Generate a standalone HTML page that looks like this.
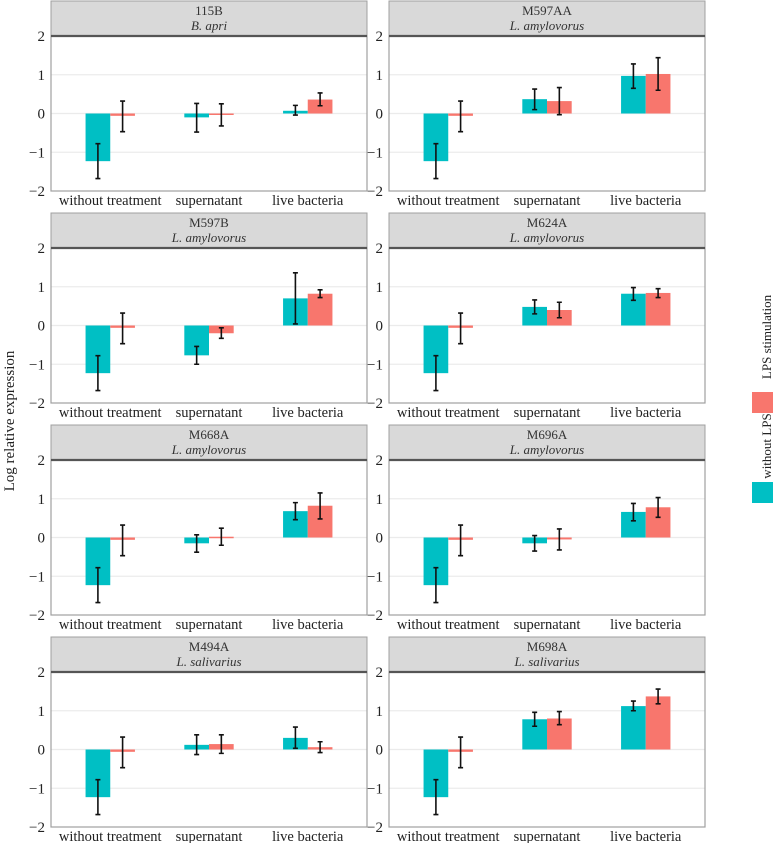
<!DOCTYPE html>
<html><head><meta charset="utf-8"><style>
html,body{margin:0;padding:0;background:#fff;}
svg{display:block;font-family:"Liberation Serif",serif;}
</style></head><body>
<svg id="chart" width="774" height="843" viewBox="0 0 774 843" xmlns="http://www.w3.org/2000/svg">
<text x="14" y="421" transform="rotate(-90 14 421)" text-anchor="middle" font-size="15" fill="#222">Log relative expression</text>
<g>
<rect x="752" y="482" width="21" height="21" fill="#00BFC4"></rect>
<text x="771" y="446" transform="rotate(-90 771 446)" text-anchor="middle" font-size="13" fill="#222">without LPS</text>
<rect x="752" y="392" width="21" height="21" fill="#F8766D"></rect>
<text x="771" y="337" transform="rotate(-90 771 337)" text-anchor="middle" font-size="13" fill="#222">LPS stimulation</text>
</g>
</svg>
<script>
const categories = ["without treatment","supernatant","live bacteria"];
const panelCodes = ["115B","M597AA","M597B","M624A","M668A","M696A","M494A","M698A"];
const panelSpecies = ["B. apri","L. amylovorus","L. amylovorus","L. amylovorus","L. amylovorus","L. amylovorus","L. salivarius","L. salivarius"];
const yTicks = [-2,-1,0,1,2];
const tickLabels = ["\u22122","\u22121","0","1","2"];
// values per panel: [without treatment, supernatant, live bacteria]
const withoutLPS = [
 [-1.23,-0.10,0.07],[-1.23,0.37,0.97],[-1.23,-0.77,0.70],[-1.23,0.48,0.82],
 [-1.23,-0.15,0.68],[-1.23,-0.15,0.66],[-1.23,0.12,0.30],[-1.23,0.78,1.12]];
const withoutLPSLo = [
 [-1.68,-0.48,-0.04],[-1.68,0.10,0.65],[-1.68,-1.00,0.04],[-1.68,0.30,0.65],
 [-1.68,-0.38,0.46],[-1.68,-0.35,0.43],[-1.68,-0.13,0.03],[-1.68,0.60,1.00]];
const withoutLPSHi = [
 [-0.78,0.26,0.21],[-0.78,0.63,1.28],[-0.78,-0.54,1.36],[-0.78,0.66,0.98],
 [-0.78,0.07,0.90],[-0.78,0.05,0.88],[-0.78,0.38,0.58],[-0.78,0.96,1.25]];
const lpsStim = [
 [-0.06,-0.03,0.36],[-0.06,0.32,1.02],[-0.06,-0.20,0.82],[-0.06,0.40,0.84],
 [-0.06,0.02,0.82],[-0.06,-0.05,0.78],[-0.06,0.14,0.06],[-0.06,0.80,1.37]];
const lpsStimLo = [
 [-0.47,-0.32,0.20],[-0.47,-0.03,0.60],[-0.47,-0.33,0.72],[-0.47,0.20,0.72],
 [-0.47,-0.20,0.48],[-0.47,-0.32,0.52],[-0.47,-0.10,-0.08],[-0.47,0.64,1.18]];
const lpsStimHi = [
 [0.32,0.25,0.53],[0.32,0.67,1.44],[0.32,-0.06,0.92],[0.32,0.60,0.95],
 [0.32,0.24,1.15],[0.32,0.22,1.03],[0.32,0.38,0.20],[0.32,0.98,1.56]];

const NS="http://www.w3.org/2000/svg";
const svg=document.getElementById('chart');
function mk(tag,attrs,parent){const e=document.createElementNS(NS,tag);for(const k in attrs)e.setAttribute(k,attrs[k]);(parent||svg).appendChild(e);return e;}
const colX=[51,389], pw=316, stripH=35, plotH=155, rowY0=1, rowStep=212;
for(let p=0;p<panelCodes.length;p++){
  const col=p%2,row=Math.floor(p/2);
  const x0=colX[col], sTop=rowY0+row*rowStep, pTop=sTop+stripH, pBot=pTop+plotH;
  const g=mk('g',{});
  
  
  const yS=v=>pTop+(2-v)/4*plotH;
  const unit=pw/3.2;
  const xS=i=>x0+(i+0.6)*unit;
  const bw=unit*0.25;
  yTicks.forEach((t,i)=>{
    if(t>-2&&t<2){const gl=mk('line',{x1:x0,x2:x0+pw,y1:yS(t),y2:yS(t),stroke:'#ebebeb','stroke-width':1.2},g);
      }
    const tl=mk('text',{x:x0-6,y:yS(t)+5,'text-anchor':'end','font-size':15,fill:'#222'},g);
    tl.textContent=tickLabels[i];
    
  });
  const st=mk('rect',{x:x0,y:sTop,width:pw,height:stripH,fill:'#d9d9d9',stroke:'#a0a0a0','stroke-width':1},g);
  
  const t1=mk('text',{x:x0+pw/2,y:sTop+14,'text-anchor':'middle','font-size':13,fill:'#333'},g);
  t1.textContent=panelCodes[p];
  const t2=mk('text',{x:x0+pw/2,y:sTop+29,'text-anchor':'middle','font-size':13,'font-style':'italic',fill:'#333'},g);
  t2.textContent=panelSpecies[p];
  const series=[[withoutLPS,withoutLPSLo,withoutLPSHi,'#00BFC4',-1,'without-lps'],[lpsStim,lpsStimLo,lpsStimHi,'#F8766D',0,'lps']];
  series.forEach(s=>{
    for(let c=0;c<categories.length;c++){
      const v=s[0][p][c], bx=xS(c)+s[4]*bw;
      const y1=Math.min(yS(v),yS(0)), h=Math.max(Math.abs(yS(v)-yS(0)),1.5);
      const b=mk('rect',{x:bx,y:y1,width:bw,height:h,fill:s[3]},g);
      
      const cx=bx+bw/2, lo=yS(s[1][p][c]), hi=yS(s[2][p][c]);
      const eb=mk('path',{d:`M${cx},${lo}V${hi}M${cx-2.5},${lo}h5M${cx-2.5},${hi}h5`,stroke:'#111','stroke-width':1.6,fill:'none'},g);
      
    }
  });
  for(let c=0;c<categories.length;c++){
    const xl=mk('text',{x:xS(c),y:pBot+14,'text-anchor':'middle','font-size':14.5,fill:'#222'},g);
    xl.textContent=categories[c];
  }
  const fr=mk('rect',{x:x0,y:pTop,width:pw,height:plotH,fill:'none',stroke:'#a0a0a0','stroke-width':1.2},g);
  
  const sl=mk('line',{x1:x0,x2:x0+pw,y1:pTop,y2:pTop,stroke:'#555','stroke-width':2.2},g);
  
}
</script>
</body></html>
